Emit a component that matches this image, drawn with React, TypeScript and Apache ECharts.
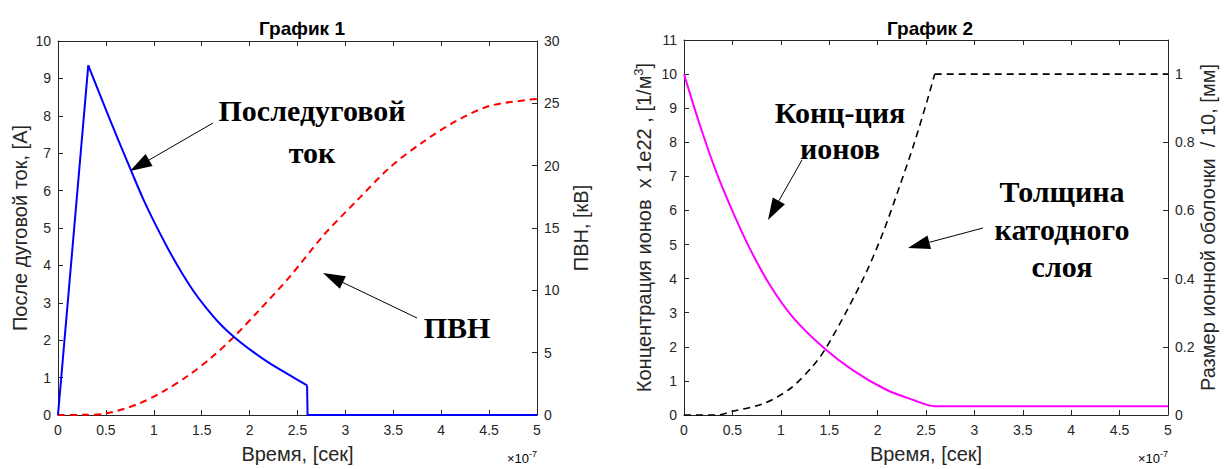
import React, { useEffect, useRef } from "react";
import * as echarts from "echarts";

// ---- Plot 1 data (time in units of 1e-7 s) ----
const currentT = [0, 0.316, 0.54, 0.762, 0.89, 1.01, 1.15, 1.29, 1.41, 1.53, 1.69, 1.85, 2.03, 2.2, 2.4, 2.6, 2.605, 5.0];
const currentA = [0, 9.35, 7.91, 6.54, 5.77, 5.13, 4.44, 3.81, 3.33, 2.92, 2.44, 2.06, 1.7, 1.4, 1.09, 0.79, 0, 0];
const pvnT = [0, 0.25, 0.49, 0.84, 1.1, 1.36, 1.6, 1.81, 2.1, 2.42, 2.77, 3.12, 3.47, 3.81, 4.16, 4.51, 4.93, 5.0];
const pvnKV = [0, 0.01, 0.1, 0.9, 1.9, 3.16, 4.6, 6.07, 8.4, 11.1, 14.4, 17.2, 19.9, 21.9, 23.6, 24.8, 25.3, 25.35];

// ---- Plot 2 data ----
const ionT = [0, 0.165, 0.337, 0.51, 0.68, 0.89, 1.13, 1.44, 1.75, 2.09, 2.37, 2.59, 5.0];
const ionConc = [10, 8.5, 7.1, 5.92, 4.88, 3.8, 2.85, 1.98, 1.3, 0.74, 0.44, 0.26, 0.26];
const sheathT = [0, 0.35, 0.5, 0.82, 1.095, 1.336, 1.474, 1.68, 1.887, 2.06, 2.23, 2.37, 2.51, 2.59, 5.0];
const sheathSize = [0, 0, 0.011, 0.033, 0.077, 0.145, 0.2, 0.305, 0.421, 0.538, 0.673, 0.79, 0.92, 1.0, 1.0];

const xTicks = { min: 0, max: 5, interval: 0.5 };

const zip = (a: number[], b: number[]) => a.map((v, i) => [v, b[i]]);

const AX = "#262626";
const SANS = '"Liberation Sans", Arial, sans-serif';
const SERIF = '"Liberation Serif", "Times New Roman", serif';

// break points: current peak / cut-off, sheath saturation
const peakIdx = currentA.indexOf(Math.max(...currentA));
const cutIdx = currentA.findIndex((v, i) => i > peakIdx && v === 0) - 1;
const satIdx = sheathSize.indexOf(Math.max(...sheathSize));

function arrow(x1: number, y1: number, x2: number, y2: number, headLen = 22, halfW = 7) {
  const dx = x2 - x1, dy = y2 - y1;
  const L = Math.hypot(dx, dy);
  const ux = dx / L, uy = dy / L;
  const bx = x2 - ux * headLen, by = y2 - uy * headLen;
  const px = -uy, py = ux;
  return [
    { type: "line", shape: { x1, y1, x2: bx, y2: by }, style: { stroke: "#000", lineWidth: 1 } },
    {
      type: "polygon",
      shape: { points: [[x2, y2], [bx + px * halfW, by + py * halfW], [bx - px * halfW, by - py * halfW]] },
      style: { fill: "#000" },
    },
  ];
}

function label(text: string, x: number, y: number) {
  return {
    type: "text",
    style: { text, x, y, align: "center", verticalAlign: "middle", font: `bold 30px ${SERIF}`, fill: "#000" },
  };
}

function xAxisDef(grid: number, bottom: boolean) {
  return {
    gridIndex: grid,
    type: "value",
    ...xTicks,
    position: bottom ? "bottom" : "top",
    name: bottom ? "Время, [сек]" : "",
    nameLocation: "middle",
    nameGap: 29,
    nameTextStyle: { fontSize: 20, color: AX, fontFamily: SANS },
    axisLine: { onZero: false, lineStyle: { color: AX, width: 1 } },
    axisTick: { inside: true, length: 5, lineStyle: { color: AX } },
    axisLabel: { show: bottom, fontSize: 14, color: AX, fontFamily: SANS, margin: 8 },
    splitLine: { show: false },
  };
}

function yAxisDef(grid: number, pos: string, min: number, max: number, interval: number, name: string, gap: number, extra: any = {}) {
  return {
    gridIndex: grid,
    type: "value",
    min,
    max,
    interval,
    position: pos,
    name,
    nameLocation: "middle",
    nameGap: gap,
    nameRotate: 90,
    nameTextStyle: { fontSize: 20, color: AX, fontFamily: SANS, ...(extra.nameTextStyle || {}) },
    axisLine: { show: true, onZero: false, lineStyle: { color: AX, width: 1 } },
    axisTick: { show: true, inside: true, length: 5, lineStyle: { color: AX } },
    axisLabel: { fontSize: 14, color: AX, fontFamily: SANS, margin: 7, ...(extra.axisLabel || {}) },
    splitLine: { show: false },
  };
}

export default function App() {
  const ref = useRef<HTMLDivElement>(null);
  useEffect(() => {
    if (!ref.current) return;
    const chart = echarts.init(ref.current, undefined, { renderer: "svg" });
    const cur = zip(currentT, currentA);
    const sheath = zip(sheathT, sheathSize);
    const blue = { color: "#0000ff", width: 2 };
    const blackDash = { color: "#000000", width: 1.6, type: [7, 5] };
    const option: any = {
      animation: false,
      backgroundColor: "#fff",
      title: [
        { text: "График 1", left: 297, top: 14, textAlign: "center", textStyle: { fontSize: 19, fontWeight: "bold", color: "#000", fontFamily: SANS } },
        { text: "График 2", left: 925, top: 14, textAlign: "center", textStyle: { fontSize: 19, fontWeight: "bold", color: "#000", fontFamily: SANS } },
      ],
      grid: [
        { left: 58, top: 41, width: 479, height: 377 },
        { left: 684, top: 40, width: 484, height: 378 },
      ],
      xAxis: [xAxisDef(0, true), xAxisDef(0, false), xAxisDef(1, true), xAxisDef(1, false)],
      yAxis: [
        yAxisDef(0, "left", 0, 10, 1, "После дуговой ток, [А]", 28),
        yAxisDef(0, "right", 0, 30, 5, "ПВН, [кВ]", 34),
        yAxisDef(1, "left", 0, 11, 1, "Концентрация ионов  x 1e22 , [1/м{sup|3}]", 29, {
          nameTextStyle: { rich: { sup: { fontSize: 13, fontFamily: SANS, color: AX, padding: [0, 0, 10, 0] } } },
        }),
        yAxisDef(1, "right", 0, 1.1, 0.2, "Размер ионной оболочки  / 10, [мм]", 29, {
          axisLabel: { formatter: (v: number) => (v > 1.05 ? "" : String(+v.toFixed(1))) },
        }),
      ],
      series: [
        { name: "Последуговой ток (рост)", type: "line", xAxisIndex: 0, yAxisIndex: 0, data: cur.slice(0, peakIdx + 1), showSymbol: false, lineStyle: blue, z: 3 },
        { name: "Последуговой ток", type: "line", xAxisIndex: 0, yAxisIndex: 0, data: cur.slice(peakIdx, cutIdx + 1), showSymbol: false, smooth: 0.3, lineStyle: blue, z: 3 },
        { name: "Последуговой ток (спад)", type: "line", xAxisIndex: 0, yAxisIndex: 0, data: cur.slice(cutIdx), showSymbol: false, lineStyle: blue, z: 3 },
        { name: "ПВН", type: "line", xAxisIndex: 0, yAxisIndex: 1, data: zip(pvnT, pvnKV), showSymbol: false, smooth: 0.3, lineStyle: { color: "#ff0000", width: 2, type: [7, 5] }, z: 2 },
        { name: "Концентрация ионов", type: "line", xAxisIndex: 2, yAxisIndex: 2, data: zip(ionT, ionConc), showSymbol: false, smooth: 0.3, lineStyle: { color: "#ff00ff", width: 2 }, z: 3 },
        { name: "Толщина катодного слоя", type: "line", xAxisIndex: 2, yAxisIndex: 3, data: sheath.slice(0, satIdx + 1), showSymbol: false, smooth: 0.3, lineStyle: blackDash, z: 2 },
        { name: "Толщина катодного слоя (насыщение)", type: "line", xAxisIndex: 2, yAxisIndex: 3, data: sheath.slice(satIdx), showSymbol: false, lineStyle: blackDash, z: 2 },
      ],
      graphic: [
        label("Последуговой", 312, 110),
        label("ток", 312, 152),
        ...arrow(213, 123, 130, 171),
        label("ПВН", 457, 327),
        ...arrow(417, 318, 323, 273),
        label("Конц-ция", 840, 112),
        label("ионов", 840, 148),
        ...arrow(802, 160, 768, 220),
        label("Толщина", 1062, 191),
        label("катодного", 1062, 229),
        label("слоя", 1062, 266),
        ...arrow(983, 228, 908, 248),
        {
          type: "text",
          style: {
            text: "{a|×10}{b|-7}", x: 537, y: 458, align: "right", verticalAlign: "middle",
            rich: { a: { fontSize: 13, fontFamily: SANS, color: AX }, b: { fontSize: 9, fontFamily: SANS, color: AX, padding: [0, 0, 8, 0] } },
          },
        },
        {
          type: "text",
          style: {
            text: "{a|×10}{b|-7}", x: 1168, y: 458, align: "right", verticalAlign: "middle",
            rich: { a: { fontSize: 13, fontFamily: SANS, color: AX }, b: { fontSize: 9, fontFamily: SANS, color: AX, padding: [0, 0, 8, 0] } },
          },
        },
      ],
    };
    chart.setOption(option);
    return () => chart.dispose();
  }, []);
  return <div ref={ref} style={{ position: "absolute", left: 0, top: 0, width: 1225, height: 469, background: "#fff" }} />;
}
